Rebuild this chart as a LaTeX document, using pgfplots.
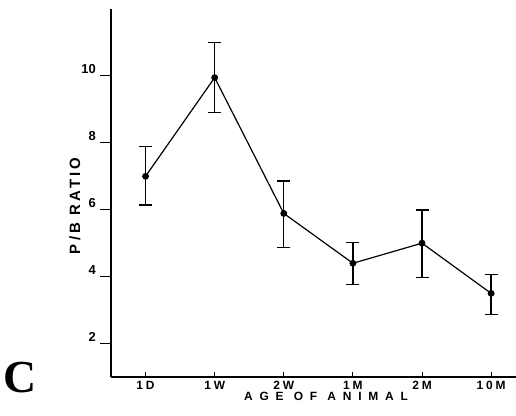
\documentclass[border=0pt]{standalone}
\usepackage{fontspec}
\setmainfont{Liberation Sans}
\newfontfamily\cfont{Liberation Serif}
\usepackage{pgfplots}
\pgfplotsset{compat=1.18}

\begin{document}
\begin{tikzpicture}
  \useasboundingbox (0,0) rectangle (516bp,416bp);
  \begin{axis}[
      at={(111bp,39bp)}, anchor=south west,
      scale only axis,
      width=405bp, height=368bp,
      xmin=-0.5, xmax=5.36,
      ymin=1, ymax=12,
      axis x line=bottom, axis y line=left,
      x axis line style={-, line width=1.8bp},
      y axis line style={-, line width=1.2bp},
      xtick={0,1,2,3,4,5},
      xticklabels={1D,1W,2W,1M,2M,10M},
      ytick={2,4,6,8,10},
      xtick align=inside, ytick align=outside,
      major tick length=11bp,
      xtick style={/pgfplots/major tick length=5bp, line width=1bp, black},
      ytick style={line width=1bp, black},
      /pgf/number format/assume math mode=true,
      xticklabel style={font=\fontsize{12}{13}\selectfont\bfseries\addfontfeature{LetterSpace=24},
        anchor=north, inner sep=0pt, yshift=-4bp},
      yticklabel style={font=\fontsize{13}{14}\selectfont\bfseries,
        anchor=east, inner sep=0pt, xshift=-4bp, yshift=7bp},
      xlabel={AGE OF ANIMAL},
      ylabel={P/B RATIO},
      xlabel style={font=\fontsize{12}{13}\selectfont\bfseries\addfontfeature{LetterSpace=57},
        at={(axis description cs:0.531,-0.052)}, anchor=center, inner sep=0pt},
      ylabel style={font=\fontsize{15}{16}\selectfont\bfseries\addfontfeature{LetterSpace=21},
        at={(axis description cs:-0.089,0.465)}, anchor=center, inner sep=0pt},
      clip=false,
    ]
    \addplot[black, line width=1.2bp, mark=*, mark size=2.8bp,
      error bars/.cd, y dir=both, y explicit,
      error bar style={line width=1.3bp},
      error mark options={rotate=90, mark size=6.5bp, line width=1.3bp}]
      coordinates {
        (0,7.0)  += (0,0.88) -= (0,0.86)
        (1,9.95) += (0,1.05) -= (0,1.05)
        (2,5.89) += (0,0.97) -= (0,1.01)
        (3,4.40) += (0,0.63) -= (0,0.63)
        (4,5.00) += (0,0.99) -= (0,1.02)
        (5,3.50) += (0,0.57) -= (0,0.63)
      };
  \end{axis}
  \node[inner sep=0pt] at (20.5bp,38.5bp) {\fontsize{46}{46}\selectfont\cfont\bfseries C};
\end{tikzpicture}
\end{document}
